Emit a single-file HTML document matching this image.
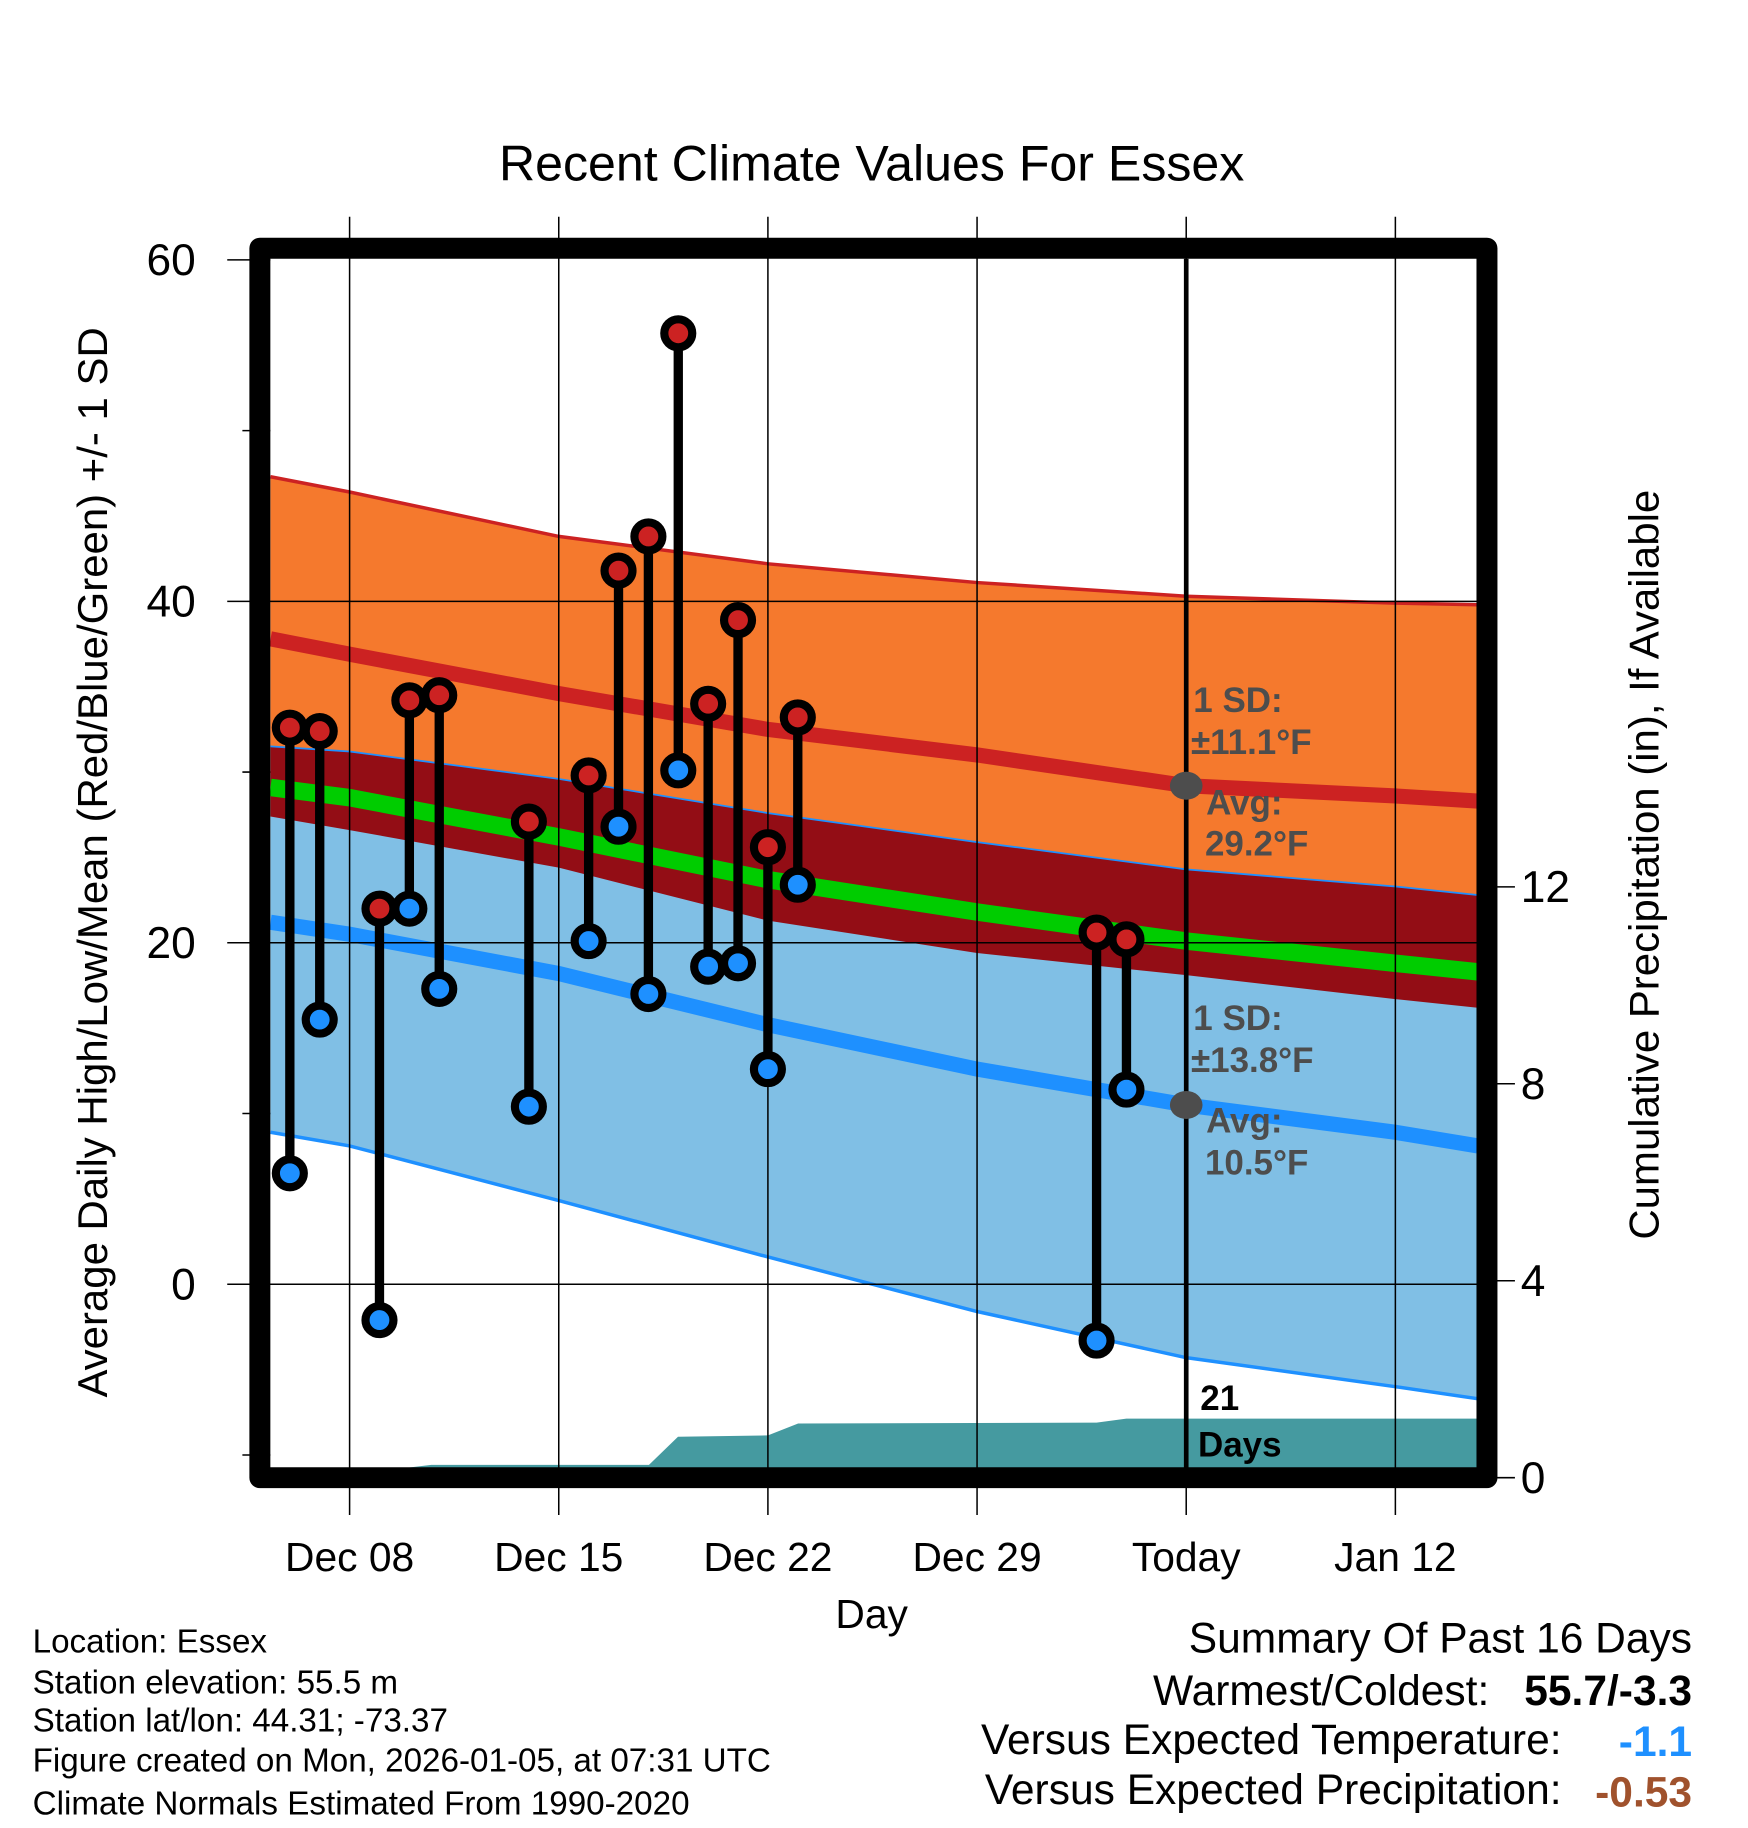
<!DOCTYPE html>
<html><head><meta charset="utf-8"><style>
html,body{margin:0;padding:0;background:#fff;}
svg{display:block;}
text{font-family:"Liberation Sans",sans-serif;}
</style></head><body>
<svg id="chart" width="1748" height="1828" viewBox="0 0 1500 1568.6" preserveAspectRatio="none" xmlns="http://www.w3.org/2000/svg">
<text x="748" y="155" font-size="43" text-anchor="middle">Recent Climate Values For Essex</text>
<g id="plot"></g>
<text transform="translate(92,740) rotate(-90)" font-size="36" text-anchor="middle">Average Daily High/Low/Mean (Red/Blue/Green) +/- 1 SD</text>
<text transform="translate(1423,742) rotate(-90)" font-size="36" text-anchor="middle">Cumulative Precipitation (in), If Available</text>
<text x="748" y="1397" font-size="35" text-anchor="middle">Day</text>
<g font-size="28.5">
<text x="28" y="1418">Location: Essex</text>
<text x="28" y="1453">Station elevation: 55.5 m</text>
<text x="28" y="1486">Station lat/lon: 44.31; -73.37</text>
<text x="28" y="1520">Figure created on Mon, 2026-01-05, at 07:31 UTC</text>
<text x="28" y="1557">Climate Normals Estimated From 1990-2020</text>
</g>
<g font-size="36.5" text-anchor="end">
<text x="1452" y="1418">Summary Of Past 16 Days</text>
<text x="1278" y="1463">Warmest/Coldest:</text>
<text x="1452" y="1463" font-weight="bold">55.7/-3.3</text>
<text x="1340" y="1505">Versus Expected Temperature:</text>
<text x="1452" y="1507" font-weight="bold" fill="#1e90ff">-1.1</text>
<text x="1340" y="1548">Versus Expected Precipitation:</text>
<text x="1452" y="1550" font-weight="bold" fill="#a0522d">-0.53</text>
</g>
</svg>
<script>
// day offsets relative to Dec 08
const normDays = [-2.65, 0, 7, 14, 21, 28, 35, 37.75];
const highUp   = [47.3, 46.4, 43.8, 42.2, 41.1, 40.3, 39.9, 39.8];
const highMean = [37.8, 36.9, 34.6, 32.5, 31.0, 29.2, 28.6, 28.3];
const highDn   = [27.4, 26.6, 24.4, 21.3, 19.4, 18.1, 16.7, 16.2];
const meanTemp = [29.1, 28.5, 26.2, 23.7, 21.8, 20.1, 18.8, 18.3];
const lowUp    = [31.5, 31.2, 29.6, 27.6, 25.9, 24.3, 23.3, 22.8];
const lowMean  = [21.2, 20.5, 18.2, 15.2, 12.6, 10.5, 8.9, 8.1];
const lowDn    = [8.9, 8.1, 4.9, 1.6, -1.6, -4.3, -6.0, -6.7];
const obsDays  = [-2, -1, 1, 2, 3, 6, 8, 9, 10, 11, 12, 13, 14, 15, 25, 26];
const obsHigh  = [32.6, 32.4, 22.0, 34.2, 34.5, 27.1, 29.8, 41.8, 43.8, 55.7, 34.0, 38.9, 25.6, 33.2, 20.6, 20.2];
const obsLow   = [6.5, 15.5, -2.1, 22.0, 17.3, 10.4, 20.1, 26.8, 17.0, 30.1, 18.6, 18.8, 12.6, 23.4, -3.3, 11.4];
const precDays = [-2.65, 1.76, 2.73, 10.02, 10.99, 14, 15.01, 25, 26, 37.75];
const precCum  = [0, 0, 0.26, 0.26, 0.83, 0.86, 1.1, 1.12, 1.2, 1.2];
const xTickDays = [0, 7, 14, 21, 28, 35];
const xTickLabels = ["Dec 08", "Dec 15", "Dec 22", "Dec 29", "Today", "Jan 12"];
const yTicks = [0, 20, 40, 60];
const yMinor = [-10, 10, 30, 50];
const y2Ticks = [0, 4, 8, 12];

const NS = "http://www.w3.org/2000/svg";
const X = d => 300 + d * 25.64;
const Y = t => 1102 - t * 14.65;
const Y2 = p => 1268 - p * 42.25;
const L = 232, R = 1268, T = 222, B = 1260;
const g = document.getElementById('plot');
function mk(tag, attrs, parent) {
  const e = document.createElementNS(NS, tag);
  for (const k in attrs) e.setAttribute(k, attrs[k]);
  (parent || g).appendChild(e);
  return e;
}
const line = arr => normDays.map((d, i) => X(d).toFixed(1) + ',' + Y(arr[i]).toFixed(1));
const band = (a, b) => line(a).concat(line(b).reverse()).join(' ');

let e;
e = mk('polygon', {points: band(highUp, highDn), fill: '#f5792d'});


e = mk('polygon', {points: band(lowUp, lowDn), fill: '#80bfe5'});


e = mk('polygon', {points: band(lowUp, highDn), fill: '#930d15'});


const pp = precDays.map((d, i) => X(d).toFixed(1) + ',' + Math.min(B, Y2(precCum[i])).toFixed(1));
pp.push(X(precDays[precDays.length-1]) + ',' + B, X(precDays[0]) + ',' + B);
e = mk('polygon', {points: pp.join(' '), fill: '#459aa0'});



e = mk('polyline', {points: line(meanTemp).join(' '), fill: 'none', stroke: '#00cc00', 'stroke-width': 15});


e = mk('polyline', {points: line(highMean).join(' '), fill: 'none', stroke: '#cc2222', 'stroke-width': 13});


e = mk('polyline', {points: line(lowMean).join(' '), fill: 'none', stroke: '#1e90ff', 'stroke-width': 13});


e = mk('polyline', {points: line(highUp).join(' '), fill: 'none', stroke: '#cc2222', 'stroke-width': 3});


e = mk('polyline', {points: line(lowUp).join(' '), fill: 'none', stroke: '#1e90ff', 'stroke-width': 1.5});


e = mk('polyline', {points: line(lowDn).join(' '), fill: 'none', stroke: '#1e90ff', 'stroke-width': 3});



xTickDays.forEach((d, i) => {
  e = mk('line', {x1: X(d), x2: X(d), y1: 186, y2: 1300, stroke: '#000', 'stroke-width': 1.3});
  
  
  e = mk('text', {x: X(d), y: 1348, 'font-size': 35, 'text-anchor': 'middle'});
  e.textContent = xTickLabels[i];
  
  
});
yTicks.forEach(t => {
  e = mk('line', {x1: 195, x2: t === 60 ? 232 : R, y1: Y(t), y2: Y(t), stroke: '#000', 'stroke-width': 1.3});
  
  
  e = mk('text', {x: 168, y: Y(t) + 13, 'font-size': 38, 'text-anchor': 'end'});
  e.textContent = t;
  
  
});
yMinor.forEach(t => {
  e = mk('line', {x1: 208, x2: 232, y1: Y(t), y2: Y(t), stroke: '#000', 'stroke-width': 1.3});
  
  
});
y2Ticks.forEach(p => {
  e = mk('line', {x1: 1276, x2: 1300, y1: Y2(p), y2: Y2(p), stroke: '#000', 'stroke-width': 1.3});
  
  
  e = mk('text', {x: 1305, y: Y2(p) + 13, 'font-size': 38});
  e.textContent = p;
  
  
});

e = mk('line', {x1: X(28), x2: X(28), y1: T, y2: 1268, stroke: '#000', 'stroke-width': 4});



obsDays.forEach((d, i) => {
  e = mk('line', {x1: X(d), x2: X(d), y1: Y(obsHigh[i]), y2: Y(obsLow[i]), stroke: '#000', 'stroke-width': 8});
  
  
  e = mk('circle', {cx: X(d), cy: Y(obsHigh[i]), r: 12, fill: '#cc2222', stroke: '#000', 'stroke-width': 7});
  
  
  e = mk('circle', {cx: X(d), cy: Y(obsLow[i]), r: 12, fill: '#1e90ff', stroke: '#000', 'stroke-width': 7});
  
  
});

const todayHigh = highMean[5], todayLow = lowMean[5];
e = mk('ellipse', {cx: X(28), cy: Y(todayHigh), rx: 14, ry: 12, fill: '#4d4d4d'});


e = mk('ellipse', {cx: X(28), cy: Y(todayLow), rx: 14, ry: 12, fill: '#4d4d4d'});


const ann = [
  [1024, 611, '1 SD:', '#4d4d4d'], [1022, 647, '±11.1°F', '#4d4d4d'],
  [1035, 699, 'Avg:', '#4d4d4d'], [1034, 734, '29.2°F', '#4d4d4d'],
  [1024, 884, '1 SD:', '#4d4d4d'], [1022, 920, '±13.8°F', '#4d4d4d'],
  [1035, 972, 'Avg:', '#4d4d4d'], [1034, 1008, '10.5°F', '#4d4d4d'],
  [1030, 1210, '21', '#000'], [1028, 1250, 'Days', '#000']
];
ann.forEach(a => {
  e = mk('text', {x: a[0], y: a[1], 'font-size': 30, 'font-weight': 'bold', fill: a[3], 'font-family': '"DejaVu Sans", sans-serif'});
  e.textContent = a[2];
  
  
});

e = mk('rect', {x: 223, y: 213, width: 1053, height: 1055, fill: 'none', stroke: '#000', 'stroke-width': 18, 'stroke-linejoin': 'round'});


</script>
</body></html>
